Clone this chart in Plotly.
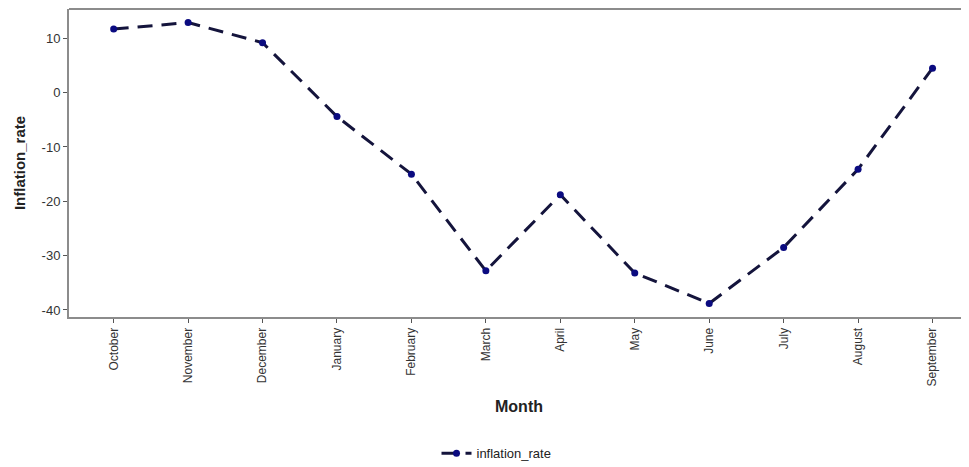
import plotly.graph_objects as go

months = ["October", "November", "December", "January", "February", "March",
          "April", "May", "June", "July", "August", "September"]
inflation_rate = [11.7, 12.9, 9.2, -4.4, -15.0, -32.8, -18.8, -33.2, -38.8, -28.5, -14.1, 4.5]
y_ticks = [10, 0, -10, -20, -30, -40]
y_tick_labels = ["10", "0", "-10", "-20", "-30", "-40"]

fig = go.Figure()
fig.add_trace(go.Scatter(
    x=months, y=inflation_rate, mode="lines+markers", name="inflation_rate",
    line=dict(color="#14143c", width=3, dash="15px,9px"),
    marker=dict(color="#0b0b80", size=7),
))

font_family = "Liberation Sans, Arial, sans-serif"
# page body has an 8px margin, so the figure is sized to fill the rest of the window
fig.update_layout(
    width=961, height=459,
    margin=dict(l=61, r=0, t=1, b=150),
    paper_bgcolor="white", plot_bgcolor="white",
    font=dict(family=font_family, color="#333333"),
    showlegend=True,
    legend=dict(orientation="h", x=0.475, xanchor="center", yref="container",
                y=0.03, yanchor="middle", font=dict(size=13, color="#222222")),
    xaxis=dict(
        type="category", range=[-0.6, 11.49], tickangle=-90, automargin=False,
        showgrid=False, zeroline=False,
        showline=True, linecolor="#8c8c8c", linewidth=2,
        ticks="outside", ticklen=4, tickcolor="#555555",
        tickfont=dict(size=12, color="#333333"),
        title=dict(text="<b>Month</b>", font=dict(size=16, color="#222222"), standoff=15),
    ),
    yaxis=dict(
        range=[-41.3, 15.4], tickvals=y_ticks, ticktext=y_tick_labels, automargin=False,
        showgrid=False, zeroline=False,
        showline=True, linecolor="#8c8c8c", linewidth=2,
        ticks="outside", ticklen=4, tickcolor="#555555",
        tickfont=dict(size=13, color="#333333"),
        title=dict(text="<b>Inflation_rate</b>", font=dict(size=15, color="#222222"), standoff=12),
    ),
    shapes=[dict(type="line", xref="paper", yref="paper", x0=0, x1=1, y0=1, y1=1,
                 line=dict(color="#8c8c8c", width=2), layer="above")],
)

fig.write_html("out.html")
